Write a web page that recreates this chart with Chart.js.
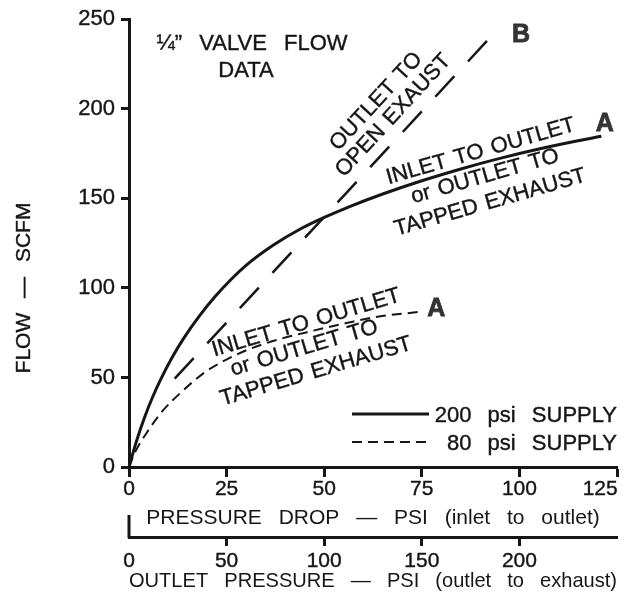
<!DOCTYPE html>
<html>
<head>
<meta charset="utf-8">
<script src="https://cdn.jsdelivr.net/npm/chart.js@4/dist/chart.umd.min.js"></script>
<style>
html,body{margin:0;padding:0;background:#fff;overflow:hidden}
canvas{display:block}
</style>
</head>
<body>
<canvas id="c" width="631" height="595"></canvas>
<script>
// ---- data ----
const flowTicks    = [0, 50, 100, 150, 200, 250];
const dropTicks    = [0, 25, 50, 75, 100, 125];
const outletTicks  = [0, 50, 100, 150, 200];

// 200 psi supply (pressure drop, psi -> flow, SCFM)
const supply200Drop = [0, 2, 4, 6, 8, 11, 14, 18, 22, 26, 30, 37, 44, 50, 57, 65, 75, 85, 95, 105, 115, 121];
const supply200Flow = [0, 15, 27.8, 38.8, 48.4, 61, 71.8, 84.2, 95, 104.4, 112.6, 123.9, 133, 139.3, 145.8, 152.4, 159.8, 166.4, 172.3, 177.5, 182.1, 184.6];

// 80 psi supply
const supply80Drop = [0, 1.5, 4.5, 8.5, 13.5, 19.5, 25, 31, 38, 47, 56, 64, 74];
const supply80Flow = [0, 8, 19, 31, 42, 53, 60, 66, 71, 76, 80.5, 84, 86.5];

// B: outlet to open exhaust (outlet pressure, psi -> flow)
const openExhaustOutlet = [23.4, 186.2];
const openExhaustFlow   = [49.3, 241.2];

// ---- styling ----
const INK = '#161616';
const FAMILY = "'Liberation Sans', Arial, Helvetica, sans-serif";
Chart.defaults.font.family = FAMILY;
Chart.defaults.color = INK;

const pts = (xs, ys) => xs.map((x, i) => ({x: x, y: ys[i]}));

const notes = [
  {t: 'OUTLET TO',       x: 63.3, y: 204.0, rot: 'B'},
  {t: 'OPEN EXAUST',     x: 67.7, y: 196.2, rot: 'B'},
  {t: 'INLET TO OUTLET', x: 90.1, y: 176.2, rot: -16},
  {t: 'or OUTLET TO',    x: 91.2, y: 162.2, rot: -16},
  {t: 'TAPPED EXHAUST',  x: 92.5, y: 147.6, rot: -16},
  {t: 'INLET TO OUTLET', x: 45.4, y: 80.4,  rot: -16.5},
  {t: 'or OUTLET TO',    x: 44.9, y: 66.3,  rot: -16.5},
  {t: 'TAPPED EXHAUST',  x: 47.9, y: 53.3,  rot: -16.5}
];
const letters = [
  {t: 'A', x: 121.9, y: 191.5},
  {t: 'B', x: 100.4, y: 241.3},
  {t: 'A', x: 78.7,  y: 87.9}
];

function inkText(ctx, s, x, y) {
  ctx.fillText(s, x, y);
  ctx.strokeText(s, x, y);
}

const decor = {
  id: 'decor',
  beforeDraw(chart) { chart.ctx.wordSpacing = '11px'; },
  afterDraw(chart) {
    const ctx = chart.ctx, ca = chart.chartArea;
    const {x, x2, y} = chart.scales;
    ctx.save();
    ctx.fillStyle = INK; ctx.strokeStyle = INK;

    // upward bar at the origin of the outlet-pressure axis
    const z = x2.getPixelForValue(0);
    ctx.lineWidth = 3; ctx.setLineDash([]);
    ctx.beginPath(); ctx.moveTo(z, x2.top + 1); ctx.lineTo(z, x2.top - 22); ctx.stroke();

    ctx.lineWidth = 0.4;
    // y-axis title
    ctx.save();
    ctx.font = '21px ' + FAMILY; ctx.wordSpacing = '9px';
    ctx.translate(ca.left - 105, ca.bottom - 179);
    ctx.rotate(-Math.PI / 2);
    ctx.textAlign = 'center'; ctx.textBaseline = 'middle';
    inkText(ctx, 'FLOW — SCFM', 0, 0);
    ctx.restore();

    // chart title
    ctx.font = '22px ' + FAMILY; ctx.wordSpacing = '11px';
    ctx.textAlign = 'center'; ctx.textBaseline = 'alphabetic';
    inkText(ctx, '¼” VALVE FLOW', ca.left + 123, ca.top + 31);
    inkText(ctx, 'DATA', ca.left + 117, ca.top + 58);

    // legend
    ctx.font = '22px ' + FAMILY; ctx.wordSpacing = '10px';
    ctx.textAlign = 'right';
    const rows = [{i: 0, ly: ca.bottom - 53, ty: ca.bottom - 45}, {i: 1, ly: ca.bottom - 25, ty: ca.bottom - 17}];
    rows.forEach(r => {
      const ds = chart.data.datasets[r.i];
      ctx.save();
      ctx.lineWidth = ds.borderWidth; ctx.setLineDash(ds.borderDash || []);
      ctx.beginPath(); ctx.moveTo(ca.right - 265, r.ly); ctx.lineTo(ca.right - 188, r.ly); ctx.stroke();
      ctx.restore();
      inkText(ctx, ds.label, ca.right, r.ty);
    });

    // rotated notes
    const bx0 = x2.getPixelForValue(openExhaustOutlet[0]), by0 = y.getPixelForValue(openExhaustFlow[0]);
    const bx1 = x2.getPixelForValue(openExhaustOutlet[1]), by1 = y.getPixelForValue(openExhaustFlow[1]);
    const angB = Math.atan2(by1 - by0, bx1 - bx0);
    ctx.font = '22px ' + FAMILY; ctx.wordSpacing = '2px';
    ctx.textAlign = 'center'; ctx.textBaseline = 'middle';
    notes.forEach(n => {
      ctx.save();
      ctx.translate(x.getPixelForValue(n.x), y.getPixelForValue(n.y));
      ctx.rotate(n.rot === 'B' ? angB : n.rot * Math.PI / 180);
      inkText(ctx, n.t, 0, 0);
      ctx.restore();
    });

    // curve letters
    ctx.font = 'bold 25px ' + FAMILY; ctx.fillStyle = '#333'; ctx.strokeStyle = '#333'; ctx.lineWidth = 0.8;
    letters.forEach(l => inkText(ctx, l.t, x.getPixelForValue(l.x), y.getPixelForValue(l.y)));
    ctx.restore();
  }
};

const tickFont = size => ({size: size, family: FAMILY});
const gridBase = len => ({drawOnChartArea: false, color: INK, tickLength: len, tickWidth: 3, tickColor: INK});
const tickStroke = {textStrokeWidth: 0.4, textStrokeColor: INK};

new Chart(document.getElementById('c'), {
  type: 'line',
  data: {
    datasets: [
      {label: '200 psi SUPPLY', data: pts(supply200Drop, supply200Flow), xAxisID: 'x', yAxisID: 'y',
       borderColor: INK, borderWidth: 3, pointRadius: 0, cubicInterpolationMode: 'monotone', fill: false},
      {label: '80 psi SUPPLY', data: pts(supply80Drop, supply80Flow), xAxisID: 'x', yAxisID: 'y',
       borderColor: INK, borderWidth: 2, borderDash: [10, 6], pointRadius: 0, cubicInterpolationMode: 'monotone', fill: false},
      {label: 'OUTLET TO OPEN EXAUST', data: pts(openExhaustOutlet, openExhaustFlow), xAxisID: 'x2', yAxisID: 'y',
       borderColor: INK, borderWidth: 2.5, borderDash: [28, 20], pointRadius: 0, tension: 0, fill: false}
    ]
  },
  options: {
    responsive: false, animation: false, devicePixelRatio: 1,
    layout: {padding: {left: 0, right: 14, top: 17, bottom: 0}},
    plugins: {legend: {display: false}, tooltip: {enabled: false}},
    scales: {
      y: {
        type: 'linear', position: 'left', min: 0, max: 250,
        afterBuildTicks: s => { s.ticks = flowTicks.map(v => ({value: v})); },
        ticks: Object.assign({font: tickFont(22), color: INK, padding: 6}, tickStroke),
        grid: gridBase(8),
        border: {display: true, width: 3, color: INK},
        afterFit: s => { s.width = 129; }
      },
      x: {
        type: 'linear', position: 'bottom', min: 0, max: 125, weight: 0,
        afterBuildTicks: s => { s.ticks = dropTicks.map(v => ({value: v})); },
        ticks: Object.assign({font: tickFont(21), color: INK, padding: 0, maxRotation: 0,
                callback: v => v === 125 ? '125  ' : String(v)}, tickStroke),
        grid: gridBase(10),
        border: {display: true, width: 3, color: INK},
        title: {display: true, text: 'PRESSURE DROP — PSI (inlet to outlet)', color: INK,
                font: {size: 21, family: FAMILY}, padding: {top: 0, bottom: 6}},
        afterFit: s => { s.height = 70; s.paddingLeft = 0; s.paddingRight = 0; }
      },
      x2: {
        type: 'linear', position: 'bottom', min: 0, max: 250, weight: 1,
        afterBuildTicks: s => { s.ticks = outletTicks.map(v => ({value: v})); },
        ticks: Object.assign({font: tickFont(21), color: INK, padding: 3, maxRotation: 0}, tickStroke),
        grid: Object.assign(gridBase(9), {tickColor: c => (c.tick && c.tick.value === 0) ? 'rgba(0,0,0,0)' : INK}),
        border: {display: true, width: 3, color: INK},
        title: {display: true, text: 'OUTLET PRESSURE — PSI (outlet to exhaust)', color: INK,
                font: {size: 21, family: FAMILY}, padding: {top: 0, bottom: 1}},
        afterFit: s => { s.height = 58; s.paddingLeft = 0; s.paddingRight = 0; }
      }
    }
  },
  plugins: [decor]
});
</script>
</body>
</html>
